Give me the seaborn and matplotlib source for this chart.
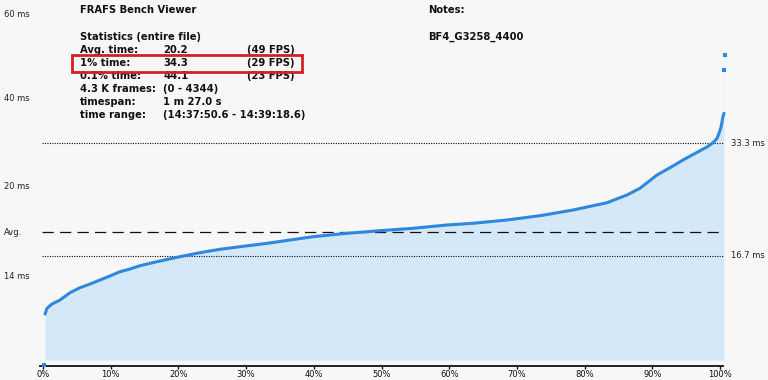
import numpy as np
import pandas as pd
import seaborn as sns
import matplotlib.pyplot as plt
from matplotlib.patches import Rectangle

# ---------------- data ----------------
curve_pct = [0.30, 0.59, 1.33, 2.51, 3.99, 5.47, 6.94, 8.42, 9.90, 11.37, 12.85,
             14.33, 17.28, 20.24, 23.19, 26.14, 29.10, 33.09, 39.88, 44.9, 49.78, 54.65,
             59.68, 63.52, 68.54, 73.41, 78.29, 83.31, 86.26, 88.18, 90.69, 93.06,
             94.53, 98.08, 98.97, 99.56, 99.85, 100.15, 100.30, 100.44, 100.60]
curve_ms = [8.09, 8.94, 9.57, 10.16, 11.24, 11.98, 12.52, 13.11, 13.71, 14.34, 14.74,
            15.23, 15.92, 16.56, 17.15, 17.65, 18.03, 18.53, 19.51, 20.01, 20.40, 20.75,
            21.24, 21.49, 21.98, 22.61, 23.45, 24.53, 25.67, 26.66, 28.62, 29.95,
            30.84, 32.76, 33.39, 34.04, 34.78, 35.67, 36.50, 37.24, 37.74]
outlier_pct = [0.15, 100.60, 100.70]
outlier_ms = [0.56, 44.13, 46.35]

avg_ms = 20.2
ref_lines_ms = [33.3, 16.7]
ref_labels = ["33.3 ms", "16.7 ms"]
x_ticks = list(range(0, 101, 10))
x_tick_labels = [f"{t}%" for t in x_ticks]

left_labels = ["60 ms", "40 ms", "20 ms", "Avg.", "14 ms"]
left_label_pos = [52.26, 39.85, 26.85, 20.2, 13.56]

stats_names = ["Avg. time:", "1% time:", "0.1% time:", "4.3 K frames:", "timespan:", "time range:"]
stats_vals = ["20.2", "34.3", "44.1", "(0 - 4344)", "1 m 27.0 s", "(14:37:50.6 - 14:39:18.6)"]
stats_fps = ["(49 FPS)", "(29 FPS)", "(23 FPS)", "", "", ""]

# ---------------- style ----------------
sns.set_style("white")
plt.rcParams['font.family'] = ['DejaVu Sans']

W, H = 768, 380
BG = "#f7f7f7"
BLUE = "#2f88de"
FILL = "#d5e8f8"

fig = plt.figure(figsize=(W / 100, H / 100), dpi=100, facecolor=BG)
ax = fig.add_axes([0, 0, 1, 1])
ax.set_facecolor(BG)

# pixel <-> data mapping
X0, XS = 43.0, 6.77
Y0, YS = 368.8, 6.771
ax.set_xlim((0 - X0) / XS, (W - X0) / XS)
ax.set_ylim((Y0 - H) / YS, Y0 / YS)

base = 1.3
ax.fill_between(curve_pct, base, curve_ms, color=FILL, linewidth=0, zorder=1)
ax.fill_between([curve_pct[-1], outlier_pct[-1]], base, [outlier_ms[-1]] * 2,
                color="#e4eff9", linewidth=0, zorder=1)

# reference lines
for v in ref_lines_ms:
    ax.hlines(v, -0.15, 100.44, colors="#111111", linewidth=0.8,
              linestyles=(0, (1, 1.2)), zorder=2)
ax.hlines(avg_ms, -0.15, 100.44, colors="#111111", linewidth=0.9,
          linestyles=(0, (9, 5)), zorder=2)

df = pd.DataFrame({"pct": curve_pct, "ms": curve_ms})
sns.lineplot(data=df, x="pct", y="ms", estimator=None, sort=False, color=BLUE,
             linewidth=2.2, ax=ax, zorder=3)
sns.scatterplot(x=outlier_pct, y=outlier_ms, marker="s", s=7, color=BLUE,
                linewidth=0, ax=ax, zorder=3)

# axes
for s in ["left", "right", "top"]:
    ax.spines[s].set_visible(False)
ax.spines["bottom"].set_position(("data", 0.41))
ax.spines["bottom"].set_bounds(-0.44, 100.44)
ax.spines["bottom"].set_color("#111111")
ax.spines["bottom"].set_linewidth(1.3)
ax.set_xticks(x_ticks)
ax.set_xticklabels(x_tick_labels)
ax.tick_params(axis="x", direction="out", length=2.5, width=1, pad=0.5,
               labelsize=6, colors="#111111", bottom=True)
ax.set_yticks([])
ax.set_xlabel("")
ax.set_ylabel("")

# left labels
for lab, pos in zip(left_labels, left_label_pos):
    ax.annotate(lab, xy=(4, pos), xycoords=("figure pixels", "data"),
                fontsize=6, color="#222222", va="center", ha="left")
# right labels
for lab, pos in zip(ref_labels, ref_lines_ms):
    ax.annotate(lab, xy=(731, pos), xycoords=("figure pixels", "data"),
                fontsize=6, color="#222222", va="center", ha="left")

def fp(x, y):
    return x / W, 1 - y / H

tkw = dict(fontsize=7.2, fontweight="bold", color="#111111", va="center", ha="left")
fig.text(*fp(80, 10), "FRAFS Bench Viewer", **tkw)
fig.text(*fp(80, 37), "Statistics (entire file)", **tkw)
for i, (n, v, f) in enumerate(zip(stats_names, stats_vals, stats_fps)):
    y = 50 + 13 * i
    fig.text(*fp(80, y), n, **tkw)
    fig.text(*fp(163, y), v, **tkw)
    if f:
        fig.text(*fp(247, y), f, **tkw)
fig.text(*fp(428, 10), "Notes:", **tkw)
fig.text(*fp(428, 37), "BF4_G3258_4400", **tkw)

# highlight box
fig.patches.append(Rectangle(fp(72, 72), (302 - 72) / W, (72 - 55) / H,
                             transform=fig.transFigure, fill=False,
                             edgecolor="#d42020", linewidth=2.0, zorder=10))

fig.savefig("out.png", dpi=100, facecolor=BG)
